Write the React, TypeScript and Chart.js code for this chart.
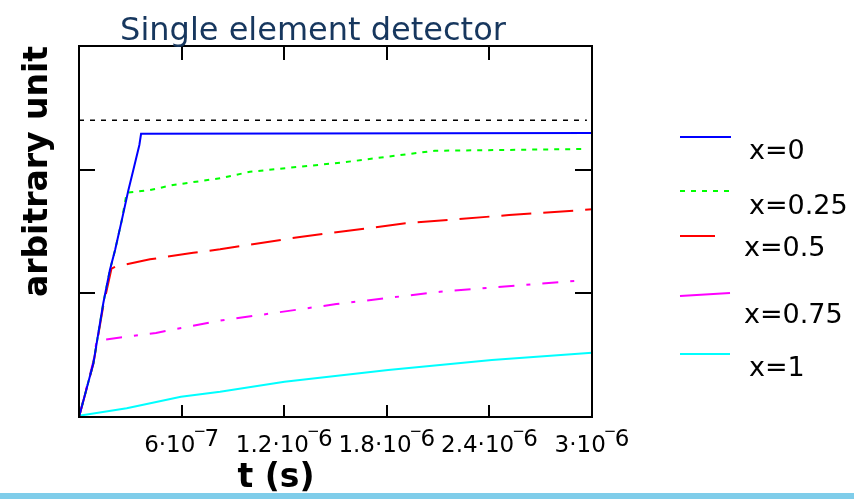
import { useEffect, useRef } from "react";
import { Chart, registerables } from "chart.js";

Chart.register(...registerables);

const TITLE = "Single element detector";
const X_TITLE = "t (s)";
const Y_TITLE = "arbitrary unit";

const SERIES_LABELS = ["x=0", "x=0.25", "x=0.5", "x=0.75", "x=1"];
const SERIES_COLORS = ["#0000ff", "#00ff00", "#ff0000", "#ff00ff", "#00ffff"];

// time (s) and signal (arbitrary unit) per series
const T_X0 = [0, 0.084e-6, 0.142e-6, 0.181e-6, 0.211e-6, 0.25e-6, 0.288e-6, 0.318e-6, 0.353e-6, 0.363e-6, 3.0e-6];
const V_X0 = [0, 0.434, 0.92, 1.19, 1.35, 1.59, 1.83, 2.0, 2.2, 2.29, 2.296];

const T_X025 = [0, 0.084e-6, 0.142e-6, 0.181e-6, 0.211e-6, 0.25e-6, 0.279e-6, 0.415e-6, 0.55e-6, 0.825e-6, 1.0e-6, 1.544e-6, 2.081e-6, 2.959e-6];
const V_X025 = [0, 0.434, 0.92, 1.19, 1.35, 1.59, 1.813, 1.835, 1.876, 1.93, 1.983, 2.059, 2.153, 2.167];

const T_X05 = [0, 0.084e-6, 0.142e-6, 0.19e-6, 0.211e-6, 0.415e-6, 0.668e-6, 0.825e-6, 1.303e-6, 1.909e-6, 2.515e-6, 3.0e-6];
const V_X05 = [0, 0.43, 0.9, 1.2, 1.215, 1.275, 1.328, 1.356, 1.458, 1.566, 1.633, 1.679];

const T_X075 = [0, 0.084e-6, 0.103e-6, 0.45e-6, 0.825e-6, 1.505e-6, 2.111e-6, 2.918e-6];
const V_X075 = [0, 0.45, 0.617, 0.68, 0.779, 0.913, 1.013, 1.102];

const T_X1 = [0, 0.279e-6, 0.596e-6, 0.825e-6, 1.202e-6, 1.808e-6, 2.414e-6, 3.0e-6];
const V_X1 = [0.01, 0.07, 0.164, 0.205, 0.285, 0.38, 0.461, 0.52];

const T_REF = [0, 2.97e-6];
const V_REF = [2.4, 2.4];

const X_MIN = 0;
const X_MAX = 3e-6;
const Y_MIN = 0;
const Y_MAX = 3;
const X_TICKS = [6e-7, 1.2e-6, 1.8e-6, 2.4e-6, 3e-6];
const X_TICK_MANTISSA = ["6", "1.2", "1.8", "2.4", "3"];
const X_TICK_EXPONENT = ["7", "6", "6", "6", "6"];
const Y_TICKS = [1, 2];

const DASHES = [[], [5, 6], [30, 12], [16, 12, 4, 12], []];

const toPoints = (t: number[], v: number[]) => t.map((x, i) => ({ x, y: v[i] }));

const SERIES_T = [T_X0, T_X025, T_X05, T_X075, T_X1];
const SERIES_V = [V_X0, V_X025, V_X05, V_X075, V_X1];

const FONT = "'DejaVu Sans', Verdana, sans-serif";

const decorPlugin = {
  id: "decor",
  afterDatasetsDraw(chart: any) {
    const ctx = chart.ctx;
    const { left, right, top, bottom } = chart.chartArea;
    const xs = chart.scales.x;
    const ys = chart.scales.y;
    ctx.save();
    ctx.strokeStyle = "#000";
    ctx.lineWidth = 2;
    ctx.setLineDash([]);
    ctx.strokeRect(left, top, right - left, bottom - top);
    X_TICKS.forEach((v) => {
      const px = Math.round(xs.getPixelForValue(v));
      ctx.beginPath();
      ctx.moveTo(px, bottom);
      ctx.lineTo(px, bottom - 12);
      ctx.moveTo(px, top);
      ctx.lineTo(px, top + 14);
      ctx.stroke();
    });
    Y_TICKS.forEach((v) => {
      const py = Math.round(ys.getPixelForValue(v));
      ctx.beginPath();
      ctx.moveTo(left, py);
      ctx.lineTo(left + 16, py);
      ctx.moveTo(right, py);
      ctx.lineTo(right - 17, py);
      ctx.stroke();
    });
    ctx.restore();
  },
  afterDraw(chart: any) {
    const ctx = chart.ctx;
    const xs = chart.scales.x;
    const { top, bottom } = chart.chartArea;
    ctx.save();

    ctx.fillStyle = "#7fcdea";
    ctx.fillRect(0, 493, chart.width, 6);

    ctx.fillStyle = "#17375e";
    ctx.font = `32px ${FONT}`;
    ctx.textAlign = "center";
    ctx.textBaseline = "alphabetic";
    ctx.fillText(TITLE, 313, 40);

    ctx.fillStyle = "#000";
    X_TICKS.forEach((v, i) => {
      const px = xs.getPixelForValue(v);
      ctx.font = `23px ${FONT}`;
      const base = `${X_TICK_MANTISSA[i]}·10`;
      const bw = ctx.measureText(base).width;
      const ew = ctx.measureText(X_TICK_EXPONENT[i]).width;
      const total = bw + 9 + ew;
      const x0 = px - total / 2;
      ctx.textAlign = "left";
      ctx.fillText(base, x0, bottom + 35);
      ctx.fillText(X_TICK_EXPONENT[i], x0 + bw + 9, bottom + 29);
      ctx.font = `15px ${FONT}`;
      ctx.fillText("−", x0 + bw - 2, bottom + 19);
    });

    ctx.font = `bold 33px ${FONT}`;
    ctx.textAlign = "center";
    ctx.fillText(X_TITLE, 276, 487);
    ctx.save();
    ctx.translate(38, (top + bottom) / 2 - 60);
    ctx.rotate(-Math.PI / 2);
    ctx.textBaseline = "middle";
    ctx.fillText(Y_TITLE, 0, 0);
    ctx.restore();

    const legendLines = [
      [680, 137, 731, 137],
      [680, 191, 729, 191],
      [680, 236, 715, 236],
      [680, 296, 730, 293],
      [680, 354, 730, 354],
    ];
    const legendText = [
      [749, 159],
      [749, 214],
      [744, 256],
      [744, 323],
      [749, 376],
    ];
    ctx.lineWidth = 2;
    SERIES_LABELS.forEach((lab, i) => {
      const [x1, y1, x2, y2] = legendLines[i];
      ctx.strokeStyle = SERIES_COLORS[i];
      ctx.setLineDash(i === 1 ? [5, 6] : []);
      ctx.beginPath();
      ctx.moveTo(x1, y1);
      ctx.lineTo(x2, y2);
      ctx.stroke();
      ctx.setLineDash([]);
      ctx.fillStyle = "#000";
      ctx.font = `27px ${FONT}`;
      ctx.textAlign = "left";
      ctx.textBaseline = "alphabetic";
      ctx.fillText(lab, legendText[i][0], legendText[i][1]);
    });
    ctx.restore();
  },
};

export default function App() {
  const ref = useRef<HTMLCanvasElement | null>(null);
  useEffect(() => {
    if (!ref.current) return;
    const datasets: any[] = SERIES_LABELS.map((label, i) => ({
      label,
      data: toPoints(SERIES_T[i], SERIES_V[i]),
      borderColor: SERIES_COLORS[i],
      borderWidth: 2,
      borderDash: DASHES[i],
      pointRadius: 0,
      tension: 0,
      fill: false,
    }));
    datasets.push({
      label: "reference",
      data: toPoints(T_REF, V_REF),
      borderColor: "#000",
      borderWidth: 1.5,
      borderDash: [5, 6],
      pointRadius: 0,
      fill: false,
    });
    const chart = new Chart(ref.current, {
      type: "line",
      data: { datasets },
      options: {
        animation: false,
        responsive: false,
        devicePixelRatio: 1,
        layout: { padding: { left: 79, top: 46, right: 262, bottom: 82 } },
        plugins: { legend: { display: false }, title: { display: false }, tooltip: { enabled: false } },
        scales: {
          x: { type: "linear", min: X_MIN, max: X_MAX, display: false },
          y: { type: "linear", min: Y_MIN, max: Y_MAX, display: false },
        },
      },
      plugins: [decorPlugin],
    });
    return () => chart.destroy();
  }, []);
  return (
    <div style={{ position: "fixed", left: 0, top: 0, width: 854, height: 499, background: "#fff" }}>
      <canvas ref={ref} width={854} height={499} style={{ display: "block" }} />
    </div>
  );
}
